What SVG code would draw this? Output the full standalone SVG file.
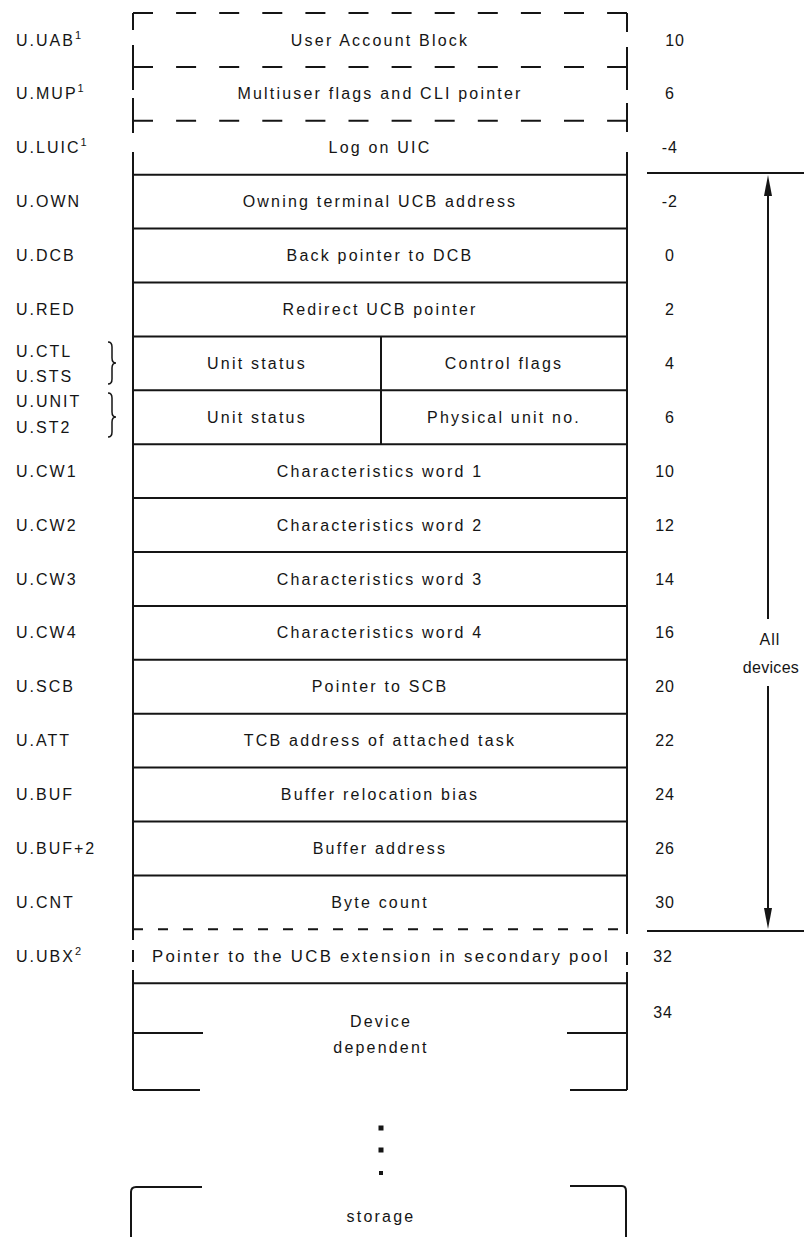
<svg xmlns="http://www.w3.org/2000/svg" width="804" height="1237" viewBox="0 0 804 1237">
<defs>
<style>
.t{font-family:"Liberation Sans",Arial,sans-serif;font-size:16px;letter-spacing:2.2px;fill:#151515}
.c{text-anchor:middle}
.n{text-anchor:end;letter-spacing:1px}
.lb{letter-spacing:2px}
.sup{font-size:11px;letter-spacing:0}
.ln{stroke:#151515;stroke-width:2;fill:none}
.dsh{stroke-dasharray:20 23.1}
.dsm{stroke-dasharray:10 15}
.br{stroke:#151515;stroke-width:1.5;fill:none}
.ah{fill:#151515}
</style>
</defs>
<rect width="804" height="1237" fill="#ffffff"/>

<g id="frame">
<line class="ln dsh" x1="133" y1="13" x2="627" y2="13"/>
<line class="ln dsh" x1="133" y1="66.9" x2="627" y2="66.9"/>
<line class="ln dsh" x1="133" y1="120.8" x2="627" y2="120.8"/>
<path class="ln" d="M133,13 V30 M133,45 V90 M133,98 V133 M627,13 V32 M627,47 V90 M627,103 V132"/>
<path class="ln" d="M133,152 V940 M627,152 V934"/>
<line class="ln" x1="133" y1="174.7" x2="627" y2="174.7"/>
<line class="ln" x1="133" y1="228.6" x2="627" y2="228.6"/>
<line class="ln" x1="133" y1="282.5" x2="627" y2="282.5"/>
<line class="ln" x1="133" y1="336.4" x2="627" y2="336.4"/>
<line class="ln" x1="133" y1="390.3" x2="627" y2="390.3"/>
<line class="ln" x1="133" y1="444.2" x2="627" y2="444.2"/>
<line class="ln" x1="133" y1="498.1" x2="627" y2="498.1"/>
<line class="ln" x1="133" y1="552" x2="627" y2="552"/>
<line class="ln" x1="133" y1="605.9" x2="627" y2="605.9"/>
<line class="ln" x1="133" y1="659.8" x2="627" y2="659.8"/>
<line class="ln" x1="133" y1="713.7" x2="627" y2="713.7"/>
<line class="ln" x1="133" y1="767.6" x2="627" y2="767.6"/>
<line class="ln" x1="133" y1="821.5" x2="627" y2="821.5"/>
<line class="ln" x1="133" y1="875.4" x2="627" y2="875.4"/>
<line class="ln" x1="381" y1="336.4" x2="381" y2="444.2"/>
<line class="ln dsm" x1="133" y1="929.3" x2="627" y2="929.3"/>
<path class="ln" d="M133,950 V962 M627,952 V965"/>
<line class="ln" x1="133" y1="983.2" x2="627" y2="983.2"/>
<path class="ln" d="M133,970 V1090 M627,972 V1090"/>
<path class="ln" d="M133,1033 H203 M567,1033 H627 M133,1090 H200 M570,1090 H627"/>
<rect x="378.5" y="1125.5" width="5" height="5" fill="#151515"/>
<rect x="378.5" y="1147.5" width="5" height="5" fill="#151515"/>
<rect x="379" y="1171" width="4" height="4" fill="#151515"/>
<path class="ln" d="M202,1187 H136 Q131,1187 131,1192 V1237 M570,1186 H622 Q626,1186 626,1191 V1237"/>
</g>

<g id="u-uab"><text class="t lb" x="16" y="45.5">U.UAB<tspan class="sup" dy="-7">1</tspan></text><text class="t c" x="380" y="45.5">User Account Block</text><text class="t n" x="685" y="45.5">10</text></g>
<g id="u-mup"><text class="t lb" x="16" y="99.4">U.MUP<tspan class="sup" dy="-7">1</tspan></text><text class="t c" x="380" y="99.4">Multiuser flags and CLI pointer</text><text class="t n" x="675" y="99.4">6</text></g>
<g id="u-luic"><text class="t lb" x="16" y="153.3">U.LUIC<tspan class="sup" dy="-7">1</tspan></text><text class="t c" x="380" y="153.3">Log on UIC</text><text class="t n" x="678" y="153.3">-4</text></g>
<g id="u-own"><text class="t lb" x="16" y="207.2">U.OWN</text><text class="t c" x="380" y="207.2">Owning terminal UCB address</text><text class="t n" x="678" y="207.2">-2</text></g>
<g id="u-dcb"><text class="t lb" x="16" y="261.1">U.DCB</text><text class="t c" x="380" y="261.1">Back pointer to DCB</text><text class="t n" x="675" y="261.1">0</text></g>
<g id="u-red"><text class="t lb" x="16" y="315">U.RED</text><text class="t c" x="380" y="315">Redirect UCB pointer</text><text class="t n" x="675" y="315">2</text></g>
<g id="u-ctl"><text class="t lb" x="16" y="357">U.CTL</text><text class="t lb" x="16" y="382">U.STS</text>
<path class="br" d="M108,342 Q112,342 112,347 L112,358 Q112,363 116,363 Q112,363 112,368 L112,379 Q112,384 108,384"/>
<text class="t c" x="257" y="368.9">Unit status</text><text class="t c" x="504" y="368.9">Control flags</text><text class="t n" x="675" y="368.9">4</text></g>
<g id="u-unit"><text class="t lb" x="16" y="407">U.UNIT</text><text class="t lb" x="16" y="433">U.ST2</text>
<path class="br" d="M108,393 Q112,393 112,398 L112,412 Q112,417 116,417 Q112,417 112,422 L112,432 Q112,437 108,437"/>
<text class="t c" x="257" y="422.8">Unit status</text><text class="t c" x="504" y="422.8">Physical unit no.</text><text class="t n" x="675" y="422.8">6</text></g>
<g id="u-cw1"><text class="t lb" x="16" y="476.7">U.CW1</text><text class="t c" x="380" y="476.7">Characteristics word 1</text><text class="t n" x="675" y="476.7">10</text></g>
<g id="u-cw2"><text class="t lb" x="16" y="530.6">U.CW2</text><text class="t c" x="380" y="530.6">Characteristics word 2</text><text class="t n" x="675" y="530.6">12</text></g>
<g id="u-cw3"><text class="t lb" x="16" y="584.5">U.CW3</text><text class="t c" x="380" y="584.5">Characteristics word 3</text><text class="t n" x="675" y="584.5">14</text></g>
<g id="u-cw4"><text class="t lb" x="16" y="638.4">U.CW4</text><text class="t c" x="380" y="638.4">Characteristics word 4</text><text class="t n" x="675" y="638.4">16</text></g>
<g id="u-scb"><text class="t lb" x="16" y="692.3">U.SCB</text><text class="t c" x="380" y="692.3">Pointer to SCB</text><text class="t n" x="675" y="692.3">20</text></g>
<g id="u-att"><text class="t lb" x="16" y="746.2">U.ATT</text><text class="t c" x="380" y="746.2">TCB address of attached task</text><text class="t n" x="675" y="746.2">22</text></g>
<g id="u-buf"><text class="t lb" x="16" y="800.1">U.BUF</text><text class="t c" x="380" y="800.1">Buffer relocation bias</text><text class="t n" x="675" y="800.1">24</text></g>
<g id="u-buf2"><text class="t lb" x="16" y="854">U.BUF+2</text><text class="t c" x="380" y="854">Buffer address</text><text class="t n" x="675" y="854">26</text></g>
<g id="u-cnt"><text class="t lb" x="16" y="907.9">U.CNT</text><text class="t c" x="380" y="907.9">Byte count</text><text class="t n" x="675" y="907.9">30</text></g>
<g id="u-ubx"><text class="t lb" x="16" y="961.8">U.UBX<tspan class="sup" dy="-7">2</tspan></text><text class="t c" x="381" y="961.8" textLength="458" lengthAdjust="spacingAndGlyphs">Pointer to the UCB extension in secondary pool</text><text class="t n" x="673" y="961.8">32</text></g>
<g id="device-dependent"><text class="t c" x="381" y="1027">Device</text><text class="t c" x="381" y="1053">dependent</text><text class="t n" x="673" y="1018">34</text></g>
<g id="storage"><text class="t c" x="381" y="1222">storage</text></g>

<g id="connectors">
<path class="ln" d="M647,173 H804 M647,931 H804"/>
<line class="ln" x1="768" y1="190" x2="768" y2="619"/>
<polygon class="ah" points="768,175 764,196 772,196"/>
<line class="ln" x1="768" y1="686" x2="768" y2="912"/>
<polygon class="ah" points="768,929 764,908 772,908"/>
<g id="all-devices"><text class="t c" x="770" y="645" style="letter-spacing:1px">All</text><text class="t c" x="771" y="673" style="letter-spacing:0.3px">devices</text></g>
</g>
</svg>
